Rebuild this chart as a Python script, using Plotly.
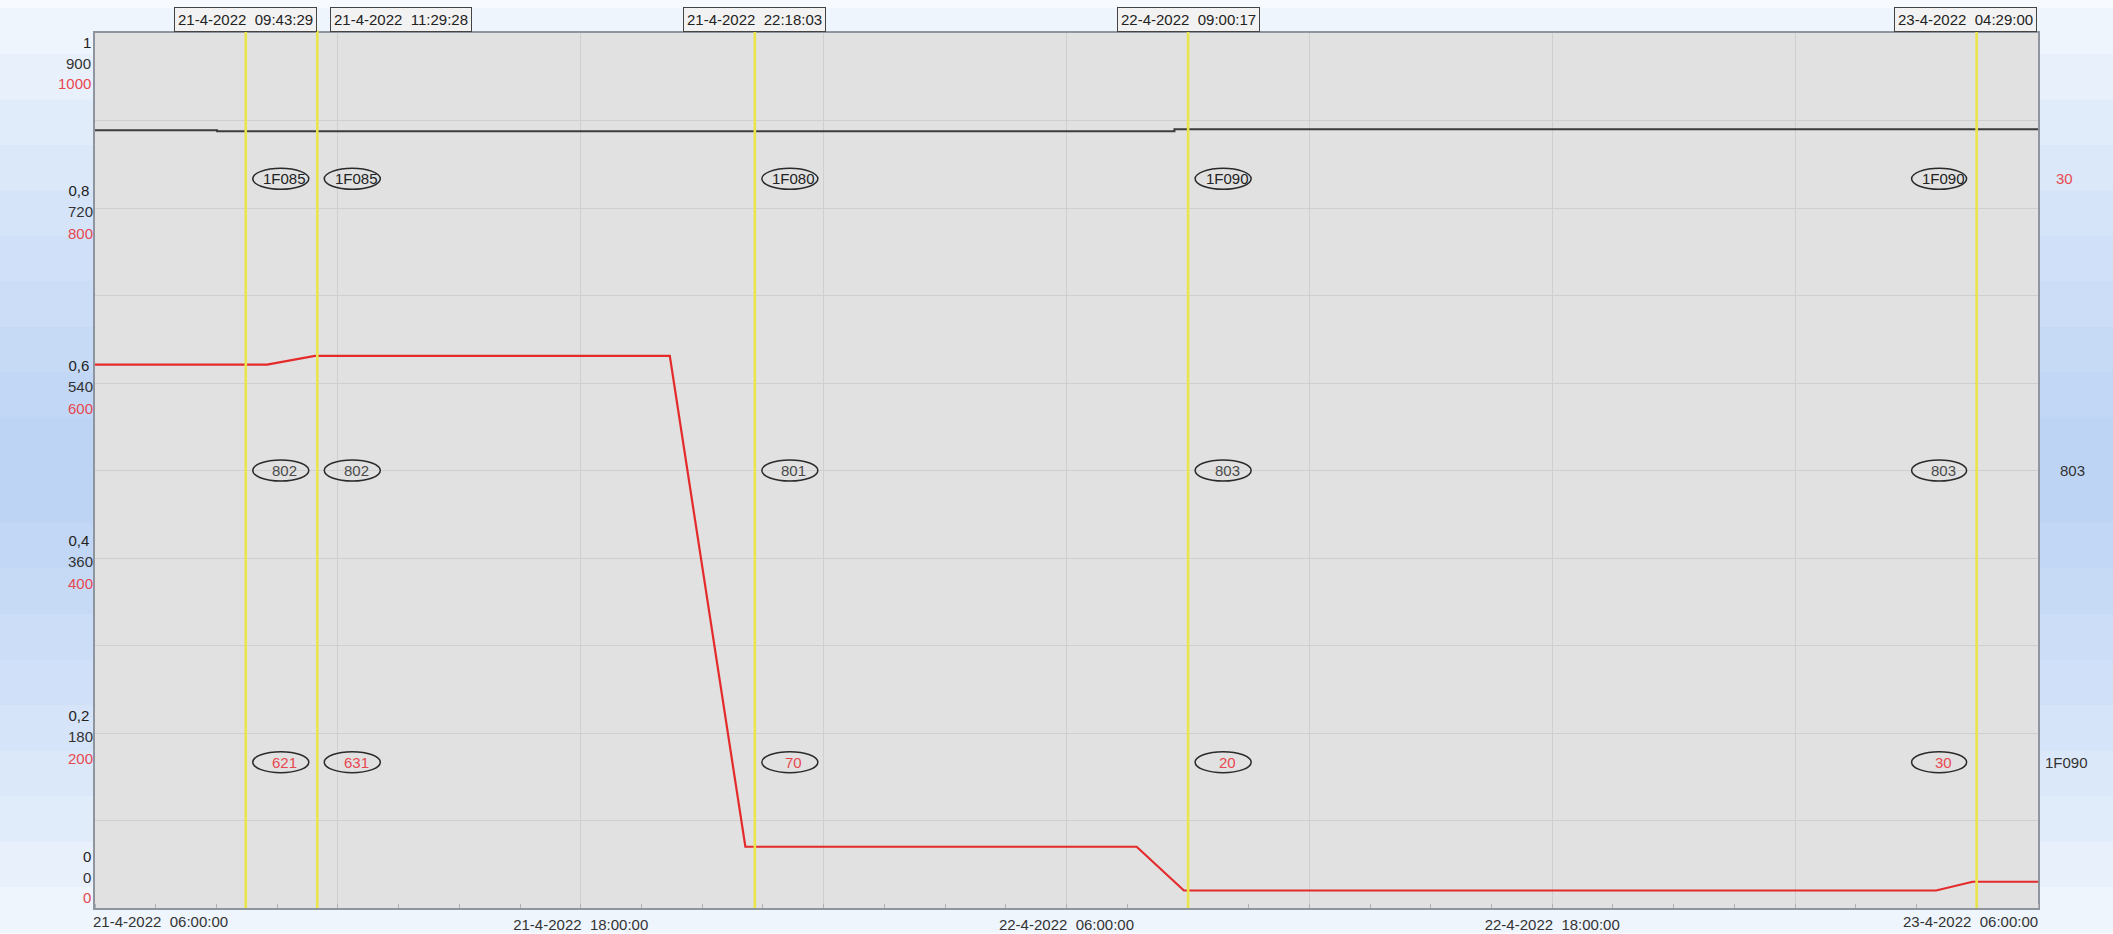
import plotly.graph_objects as go

# ---------------- data ----------------
x_start = "2022-04-21 06:00:00"
x_end = "2022-04-23 06:00:00"

red_times = ["2022-04-21 06:00:00", "2022-04-21 10:15:00", "2022-04-21 11:26:00",
             "2022-04-21 20:12:00", "2022-04-21 22:04:00", "2022-04-22 07:44:00",
             "2022-04-22 08:54:00", "2022-04-23 03:29:00", "2022-04-23 04:23:00",
             "2022-04-23 06:00:00"]
red_values = [621, 621, 631, 631, 70, 70, 20, 20, 30, 30]

black_times = ["2022-04-21 06:00:00", "2022-04-21 09:01:00",
               "2022-04-22 08:40:00", "2022-04-23 06:00:00"]
black_values = [800, 799, 801, 801]

cursor_times = ["2022-04-21 09:43:29", "2022-04-21 11:29:28", "2022-04-21 22:18:03",
                "2022-04-22 09:00:17", "2022-04-23 04:29:00"]
cursor_labels = ["21-4-2022  09:43:29", "21-4-2022  11:29:28", "21-4-2022  22:18:03",
                 "22-4-2022  09:00:17", "23-4-2022  04:29:00"]
cursor_code = ["1F085", "1F085", "1F080", "1F090", "1F090"]
cursor_black = ["802", "802", "801", "803", "803"]
cursor_red = ["621", "631", "70", "20", "30"]

right_labels = ["30", "803", "1F090"]

y1_ticks = [0.2, 0.4, 0.6, 0.8]
y1_text = ["0,2", "0,4", "0,6", "0,8"]
y2_ticks = [180, 360, 540, 720]
y3_ticks = [200, 400, 600, 800]
y_top_labels = ["1", "900", "1000"]
y_bottom_labels = ["0", "0", "0"]

grid_y = [0.1, 0.2, 0.3, 0.4, 0.5, 0.6, 0.7, 0.8, 0.9]
x_grid = ["2022-04-21 12:00:00", "2022-04-21 18:00:00", "2022-04-22 00:00:00",
          "2022-04-22 06:00:00", "2022-04-22 12:00:00", "2022-04-22 18:00:00",
          "2022-04-23 00:00:00"]
x_grid_text = ["", "21-4-2022  18:00:00", "", "22-4-2022  06:00:00", "",
               "22-4-2022  18:00:00", ""]
x_end_labels = ["21-4-2022  06:00:00", "23-4-2022  06:00:00"]

# ---------------- style ----------------
FONT = "Liberation Sans, Arial, sans-serif"
RED = "#e8474f"
RED_LINE = "#e42a2a"
BLACK_LINE = "#3c3c3c"
CURSOR = "#e9e54a"
sp = lambda s: s.replace(" ", "\u00a0")

fig = go.Figure()
fig.add_trace(go.Scatter(x=[x_start], y=[None], yaxis="y", mode="lines",
                         showlegend=False, hoverinfo="skip"))
fig.add_trace(go.Scatter(x=black_times, y=black_values, yaxis="y2", mode="lines",
                         line=dict(color=BLACK_LINE, width=2, shape="hv"),
                         showlegend=False))
fig.add_trace(go.Scatter(x=red_times, y=red_values, yaxis="y3", mode="lines",
                         line=dict(color=RED_LINE, width=2.2),
                         showlegend=False))

shapes = []
# soft blue gradient in the margins
for i in range(11):
    half = 0.06 + i * 0.052
    shapes.append(dict(type="rect", xref="paper", yref="paper", x0=-0.06, x1=1.06,
                       y0=0.5 - half, y1=0.5 + half, fillcolor="#8fb8ec",
                       opacity=0.07, line=dict(width=0), layer="below"))
# plot area background (over the gradient, under the grid)
shapes.append(dict(type="rect", xref="paper", yref="paper", x0=0, x1=1, y0=0, y1=1,
                   fillcolor="#e1e1e1", line=dict(width=0), layer="below"))

# cursor lines and ellipses
rows = [5 / 6, 3 / 6, 1 / 6]
annotations = []
for i, t in enumerate(cursor_times):
    shapes.append(dict(type="line", xref="x", yref="paper", x0=t, x1=t, y0=0, y1=1.003,
                       line=dict(color=CURSOR, width=2.6)))
    left = i == len(cursor_times) - 1
    ex0, ex1 = (-65, -10) if left else (7, 63)
    for r, txt, col in zip(rows, [cursor_code[i], cursor_black[i], cursor_red[i]],
                           ["#222222", "#4a4a4a", RED]):
        shapes.append(dict(type="circle", xref="x", yref="paper", xsizemode="pixel",
                           ysizemode="pixel", xanchor=t, yanchor=r, x0=ex0, x1=ex1,
                           y0=-10.5, y1=10.5, line=dict(color="#2a2a2a", width=1.5)))
        annotations.append(dict(x=t, y=r, xref="x", yref="paper", text=txt,
                                showarrow=False, xshift=(ex0 + ex1) / 2 + 4,
                                xanchor="center", yanchor="middle",
                                font=dict(family=FONT, size=15, color=col)))
    # top boxed label
    if i == 1:
        anc, shift = "left", 13
    elif left:
        anc, shift = "right", 60
    else:
        anc, shift = "center", 0
    annotations.append(dict(x=t, y=1, xref="x", yref="paper", yanchor="bottom",
                            xanchor=anc, xshift=shift, yshift=1, text=sp(cursor_labels[i]),
                            showarrow=False, bordercolor="#444444", borderwidth=1,
                            borderpad=3, bgcolor="#f2f2f2",
                            font=dict(family=FONT, size=15, color="#222222")))

# right side labels
for r, txt, col, xs in zip(rows, right_labels, [RED, "#333333", "#333333"], [16, 20, 5]):
    annotations.append(dict(x=1, y=r, xref="paper", yref="paper", xanchor="left",
                            yanchor="middle", xshift=xs, text=txt, showarrow=False,
                            font=dict(family=FONT, size=15, color=col)))

# end labels of the stacked y scales
for lab, ys, col in zip(y_top_labels, [-9, -30, -50], ["#222222", "#333333", RED]):
    annotations.append(dict(x=0, y=1, xref="paper", yref="paper", xanchor="right",
                            yanchor="middle", xshift=-2, yshift=ys, text=lab,
                            showarrow=False, font=dict(family=FONT, size=15, color=col)))
for lab, ys, col in zip(y_bottom_labels, [52, 31, 11], ["#222222", "#333333", RED]):
    annotations.append(dict(x=0, y=0, xref="paper", yref="paper", xanchor="right",
                            yanchor="middle", xshift=-2, yshift=ys, text=lab,
                            showarrow=False, font=dict(family=FONT, size=15, color=col)))

# end labels of the time axis
annotations.append(dict(x=x_start, y=0, xref="x", yref="paper", xanchor="left",
                        yanchor="top", xshift=-4, yshift=-3, text=sp(x_end_labels[0]),
                        showarrow=False, font=dict(family=FONT, size=15, color="#333333")))
annotations.append(dict(x=x_end, y=0, xref="x", yref="paper", xanchor="right",
                        yanchor="top", xshift=2, yshift=-3, text=sp(x_end_labels[1]),
                        showarrow=False, font=dict(family=FONT, size=15, color="#333333")))

axis_line = dict(showline=True, linecolor="#8e959e", linewidth=1.5, mirror=True)

fig.update_layout(
    width=2113, height=934,
    margin=dict(l=95, r=75, t=33, b=26, autoexpand=False),
    paper_bgcolor="#ffffff", plot_bgcolor="rgba(0,0,0,0)",
    font=dict(family=FONT, size=15, color="#333333"),
    showlegend=False,
    xaxis=dict(type="date", range=[x_start, x_end], tickmode="array",
               tickvals=x_grid, ticktext=[sp(s) for s in x_grid_text],
               showgrid=True, gridcolor="#cfcfcf", gridwidth=1, ticks="",
               zeroline=False, ticklabelstandoff=2, automargin=False,
               minor=dict(dtick=5400000, tick0=x_start, ticks="inside", ticklen=4,
                          tickcolor="#b0b0b0", showgrid=False),
               **axis_line),
    yaxis=dict(range=[0, 1], tickmode="array", tickvals=grid_y,
               ticktext=["", y1_text[0], "", y1_text[1], "", y1_text[2], "", y1_text[3], ""],
               showgrid=True, gridcolor="#cfcfcf", gridwidth=1, zeroline=False,
               ticks="", ticklabelshift=-17, ticklabelstandoff=1, automargin=False,
               tickfont=dict(color="#222222"), **axis_line),
    yaxis2=dict(range=[0, 900], overlaying="y", side="left", tickmode="array",
                tickvals=y2_ticks, ticktext=[str(v) for v in y2_ticks],
                showgrid=False, zeroline=False, ticks="", ticklabelshift=4,
                ticklabelstandoff=1, automargin=False,
                tickfont=dict(color="#333333"), showline=False),
    yaxis3=dict(range=[0, 1000], overlaying="y", side="left", tickmode="array",
                tickvals=y3_ticks, ticktext=[str(v) for v in y3_ticks],
                showgrid=False, zeroline=False, ticks="", ticklabelshift=26,
                ticklabelstandoff=1, automargin=False,
                tickfont=dict(color=RED), showline=False),
    shapes=shapes,
    annotations=annotations,
)

fig.write_html("out.html", config={"displayModeBar": False},
               post_script="document.body.style.margin='0';document.body.style.overflow='hidden';")
